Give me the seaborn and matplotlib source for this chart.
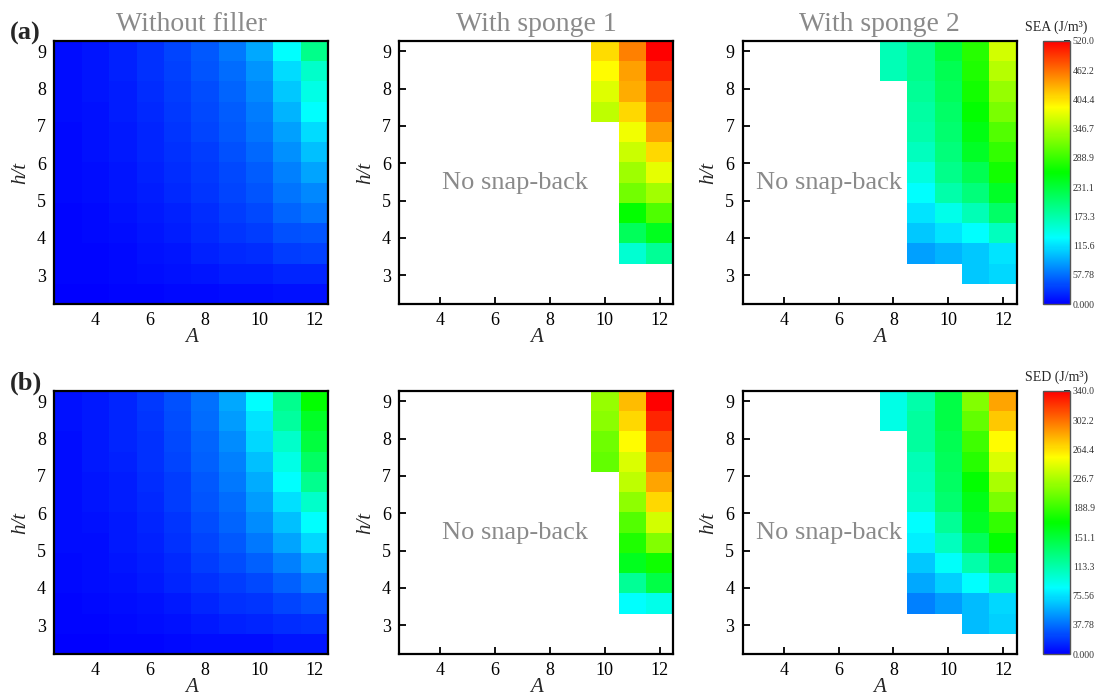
import numpy as np
import pandas as pd
import matplotlib
matplotlib.use('Agg')
import matplotlib.pyplot as plt
import seaborn as sns
from matplotlib.colors import LinearSegmentedColormap

nan = np.nan

a_values = [3, 4, 5, 6, 7, 8, 9, 10, 11, 12]
# h/t rows, top of the map first
ht_values = [9.0, 8.46, 7.92, 7.38, 6.83, 6.29, 5.75, 5.21, 4.67, 4.12, 3.58, 3.04, 2.5]

# one list per A column (A = 3 ... 12), h/t from 9.0 down to 2.5
sea_no_filler = [
    [8, 8, 7, 7, 6, 6, 5, 5, 4, 4, 3, 3, 2],
    [12, 11, 11, 10, 9, 9, 8, 7, 6, 5, 4, 3, 2],
    [18, 17, 16, 15, 14, 13, 12, 11, 9, 8, 6, 5, 3],
    [26, 25, 23, 22, 20, 19, 17, 15, 13, 11, 9, 7, 4],
    [35, 33, 31, 29, 27, 25, 23, 21, 18, 15, 12, 9, 5],
    [46, 43, 40, 37, 35, 32, 30, 27, 24, 21, 17, 12, 6],
    [61, 56, 52, 48, 45, 42, 38, 35, 31, 27, 22, 16, 8],
    [87, 76, 71, 64, 59, 54, 48, 43, 38, 31, 23, 15, 8],
    [130, 112, 102, 92, 82, 74, 66, 59, 51, 41, 31, 20, 10],
    [189, 158, 143, 130, 112, 99, 84, 71, 59, 43, 33, 20, 10],
]
sea_sponge1 = [[nan] * 13] * 7 + [
    [408, 390, 372, 357] + [nan] * 9,
    [454, 438, 431, 410, 382, 362, 340, 318, 260, 215, 153, nan, nan],
    [520, 500, 479, 464, 438, 410, 377, 342, 300, 245, 184, nan, nan],
]
sea_sponge2 = [[nan] * 13] * 5 + [
    [168, 168] + [nan] * 11,
    [189, 189, 184, 178, 173, 163, 148, 130, 117, 102, 82, nan, nan],
    [229, 219, 214, 209, 204, 199, 189, 173, 142, 117, 92, nan, nan],
    [280, 275, 270, 260, 250, 240, 219, 199, 168, 130, 102, 102, nan],
    [367, 352, 336, 321, 301, 285, 270, 240, 209, 163, 117, 110, nan],
]

sed_no_filler = [
    [6, 6, 5, 5, 5, 4, 4, 4, 3, 3, 2, 2, 1],
    [9, 9, 8, 8, 7, 7, 6, 5, 5, 4, 3, 2, 1],
    [13, 13, 12, 11, 10, 10, 9, 8, 7, 6, 4, 3, 2],
    [19, 18, 17, 16, 15, 14, 13, 11, 10, 8, 6, 4, 2],
    [27, 26, 24, 23, 21, 20, 18, 16, 14, 12, 9, 6, 3],
    [38, 36, 34, 32, 30, 28, 26, 23, 20, 17, 13, 9, 4],
    [57, 52, 47, 43, 40, 37, 34, 30, 26, 21, 16, 11, 5],
    [85, 77, 72, 65, 58, 52, 47, 40, 33, 25, 18, 12, 5],
    [123, 117, 103, 94, 85, 75, 65, 55, 43, 33, 23, 15, 7],
    [170, 157, 150, 137, 123, 103, 85, 73, 57, 42, 27, 17, 7],
]
sed_sponge1 = [[nan] * 13] * 7 + [
    [220, 216, 207, 203] + [nan] * 9,
    [277, 268, 255, 243, 233, 217, 197, 180, 160, 120, 85, nan, nan],
    [340, 327, 313, 300, 285, 267, 240, 213, 175, 147, 92, nan, nan],
]
sed_sponge2 = [[nan] * 13] * 5 + [
    [94, 94] + [nan] * 11,
    [113, 117, 117, 110, 107, 103, 85, 80, 67, 57, 43, nan, nan],
    [147, 147, 143, 140, 137, 133, 120, 107, 87, 70, 53, nan, nan],
    [213, 203, 190, 183, 170, 163, 157, 140, 113, 85, 63, 63, nan],
    [285, 273, 255, 243, 227, 210, 187, 170, 143, 110, 73, 70, nan],
]

panel_titles = ['Without filler', 'With sponge 1', 'With sponge 2']
row_tags = ['(a)', '(b)']
cbar_titles = ['SEA (J/m³)', 'SED (J/m³)']
cbar_max = [520.0, 340.0]
sea_tick_labels = ['0.000', '57.78', '115.6', '173.3', '231.1', '288.9', '346.7', '404.4', '462.2', '520.0']
sed_tick_labels = ['0.000', '37.78', '75.56', '113.3', '151.1', '188.9', '226.7', '264.4', '302.2', '340.0']
a_ticks = [4, 6, 8, 10, 12]
ht_ticks = [3, 4, 5, 6, 7, 8, 9]

# tecplot style "small rainbow"
rainbow = LinearSegmentedColormap.from_list(
    'small_rainbow', ['#0000ff', '#00ffff', '#00ff00', '#ffff00', '#ff0000'])

sns.set_style('white')
plt.rcParams['font.family'] = ['Liberation Serif', 'DejaVu Serif']

fig = plt.figure(figsize=(11.1, 6.98), dpi=100)
W, H = 1110.0, 698.0

col_left = [54.3, 399.3, 742.7]
row_top = [41.0, 391.0]
ax_w, ax_h = 274.0, 263.0

rows = [
    [sea_no_filler, sea_sponge1, sea_sponge2],
    [sed_no_filler, sed_sponge1, sed_sponge2],
]
tick_sets = [sea_tick_labels, sed_tick_labels]

# heatmap coordinates for h/t (rows run top to bottom)
ht_up = ht_values[::-1]
row_pos_up = (np.arange(len(ht_values)) + 0.5)[::-1]


def ht_pos(h):
    return np.interp(h, ht_up, row_pos_up)


def a_pos(a):
    return np.interp(a, a_values, np.arange(len(a_values)) + 0.5)


gray = '#8a8a8a'

for r, panels in enumerate(rows):
    vmax = cbar_max[r]
    mesh = None
    for c, cols in enumerate(panels):
        left = col_left[c] / W
        bottom = 1 - (row_top[r] + ax_h) / H
        ax = fig.add_axes([left, bottom, ax_w / W, ax_h / H])
        df = pd.DataFrame(np.array(cols, dtype=float).T, index=ht_values, columns=a_values)
        sns.heatmap(df, ax=ax, cmap=rainbow, vmin=0, vmax=vmax, cbar=False,
                    xticklabels=False, yticklabels=False, linewidths=0)
        mesh = ax.collections[0]
        for s in ax.spines.values():
            s.set_visible(True)
            s.set_color('black')
            s.set_linewidth(1.6)
        ax.set_xticks(a_pos(a_ticks))
        ax.set_xticklabels([str(t) for t in a_ticks])
        ax.set_yticks(ht_pos(ht_ticks))
        ax.set_yticklabels([str(t) for t in ht_ticks], rotation=0)
        ax.tick_params(direction='in', length=5, width=1.3, labelsize=13,
                       bottom=True, left=True, pad=6, colors='black')
        ax.set_xlabel('A', fontstyle='italic', fontsize=15, labelpad=-1)
        ax.set_ylabel('h/t', fontstyle='italic', fontsize=15, labelpad=5)
        if r == 0:
            ax.set_title(panel_titles[c], fontsize=20, color=gray, pad=7)
        if c == 1:
            ax.text(a_pos(6.73), ht_pos(5.46), 'No snap-back', fontsize=19,
                    color=gray, ha='center', va='center')
        if c == 2:
            ax.text(a_pos(5.64), ht_pos(5.46), 'No snap-back', fontsize=19,
                    color=gray, ha='center', va='center')

    cax = fig.add_axes([1042.7 / W, 1 - (row_top[r] + ax_h) / H, 27.3 / W, ax_h / H])
    ticks = np.linspace(0, vmax, len(tick_sets[r]))
    cb = fig.colorbar(mesh, cax=cax, ticks=ticks)
    cb.ax.set_yticklabels(tick_sets[r])
    cb.ax.tick_params(direction='in', length=4, width=1.2, labelsize=7,
                      colors='black', labelcolor='#333333', pad=2)
    cb.outline.set_linewidth(1.0)
    cb.outline.set_edgecolor('#555555')
    cax.set_title(cbar_titles[r], fontsize=10, pad=7)

    fig.text(10 / W, 1 - (row_top[r] - 8) / H, row_tags[r], fontsize=19,
             fontweight='bold', ha='left', va='center')

fig.savefig('out.png', dpi=100)
